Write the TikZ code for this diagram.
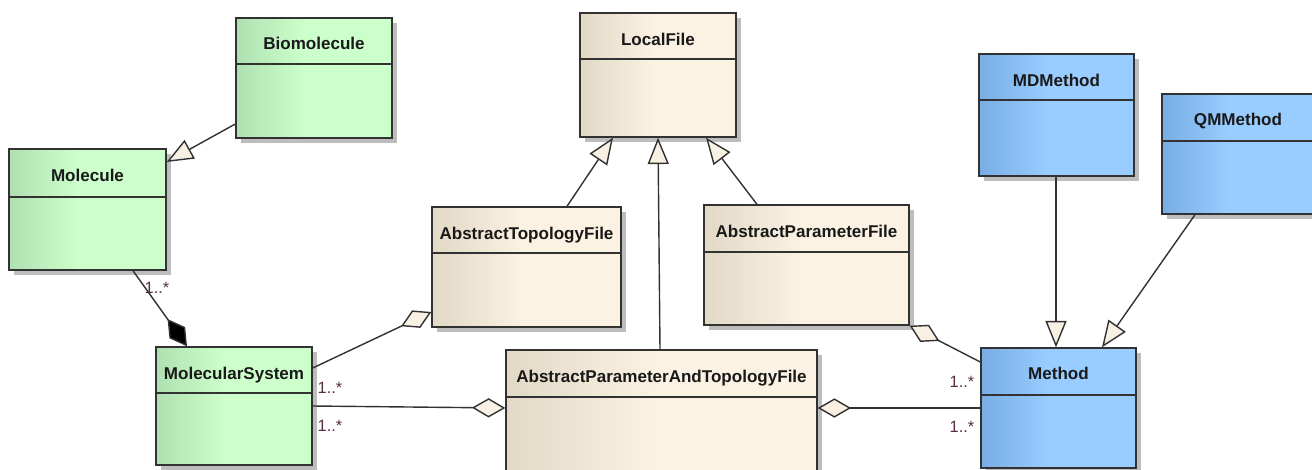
\documentclass[tikz,border=0pt]{standalone}
\usepackage{fontspec}
\setmainfont{Liberation Sans}
\usetikzlibrary{arrows.meta,fit,shadows}
\definecolor{gL}{RGB}{176,224,176}
\definecolor{gR}{RGB}{204,255,204}
\definecolor{bL}{RGB}{226,216,198}
\definecolor{bR}{RGB}{252,242,228}
\definecolor{uL}{RGB}{120,174,228}
\definecolor{uR}{RGB}{153,204,255}
\definecolor{edge}{RGB}{50,50,50}
\definecolor{tipfill}{RGB}{248,240,226}
\definecolor{multcol}{RGB}{85,45,70}
\pgfdeclarehorizontalshading{greenshade}{100bp}{color(0bp)=(gL); color(25bp)=(gL); color(47bp)=(gR); color(100bp)=(gR)}
\pgfdeclarehorizontalshading{beigeshade}{100bp}{color(0bp)=(bL); color(25bp)=(bL); color(49bp)=(bR); color(100bp)=(bR)}
\pgfdeclarehorizontalshading{blueshade}{100bp}{color(0bp)=(uL); color(25bp)=(uL); color(47bp)=(uR); color(100bp)=(uR)}
\newcommand{\umlbox}[9]{%
  \node[umlbox, shading=#2, fit={(#3,#4) (#5,#6)}] (#1) {};
  \draw[divline] (#1.west |- 0,#7) -- (#1.east |- 0,#7);
  \node[title] (#1-t) at ({(#3+#5)/2},#8) {#9};
}
\begin{document}
\begin{tikzpicture}[x=0.02cm,y=-0.02cm,
  umlbox/.style={draw=edge, line width=0.8pt, inner sep=0pt,
    drop shadow={shadow xshift=2.8pt, shadow yshift=-2.8pt, fill=black!40, opacity=0.65}},
  divline/.style={draw=edge, line width=0.8pt},
  title/.style={font=\fontsize{9.7}{11}\selectfont\bfseries, text=black!90, anchor=base, inner sep=0pt},
  conn/.style={draw=edge, line width=0.8pt},
  gen/.style={conn, -{Triangle[length=15pt,width=12pt,fill=tipfill]}},
  aggr/.style={conn, {Diamond[length=19pt,width=11pt,fill=tipfill]}-},
  comp/.style={conn, -{Diamond[length=19pt,width=11pt,fill=black]}},
  mult/.style={font=\fontsize{9.3}{10}\selectfont, text=multcol, inner sep=0pt}]
\useasboundingbox (0,0) rectangle (1312,470);

\umlbox{bio}{greenshade}{236}{18}{392}{138}{64}{50}{Biomolecule}
\umlbox{mol}{greenshade}{9}{149}{166}{270}{197}{181}{Molecule}
\umlbox{msys}{greenshade}{156}{347}{312}{465}{393}{379}{MolecularSystem}
\umlbox{lf}{beigeshade}{580}{13}{736}{137}{59}{45}{LocalFile}
\umlbox{atf}{beigeshade}{432}{207}{621}{327}{253}{239}{AbstractTopologyFile}
\umlbox{apf}{beigeshade}{704}{205}{909}{325}{252}{237}{AbstractParameterFile}
\umlbox{aptf}{beigeshade}{506}{350}{817}{480}{397}{382}{AbstractParameterAndTopologyFile}
\umlbox{md}{blueshade}{979}{54}{1134}{176}{100}{86}{MDMethod}
\umlbox{qm}{blueshade}{1162}{94}{1314}{214}{141}{125}{QMMethod}
\umlbox{meth}{blueshade}{981}{348}{1136}{468}{395}{379}{Method}

% generalizations
\draw[gen] (bio.west |- 0,124) -- (mol.east |- 0,162);
\draw[gen] (aptf.north -| 660,0) -- (lf.south -| 658,0);
\draw[gen] (atf.north -| 567,0) -- (lf.south -| 613,0);
\draw[gen] (apf.north -| 757,0) -- (lf.south -| 706,0);
\draw[gen] (md.south -| 1056,0) -- (meth.north -| 1056,0);
\draw[gen] (qm.south -| 1195,0) -- (meth.north -| 1102,0);

% composition
\draw[comp] (mol.south -| 133,0) -- (msys.north -| 187,0);

% aggregations
\draw[aggr] (atf.west |- 0,312) -- (msys.east |- 0,368);
\draw[aggr] (aptf.west |- 0,408) -- (msys.east |- 0,406);
\draw[aggr] (apf.south east) -- (meth.west |- 0,362);
\draw[aggr] (aptf.east |- 0,408) -- (meth.west |- 0,408);

% multiplicities
\node[mult] (m1) at (157,288) {1..*};
\node[mult] (m2) at (330,388) {1..*};
\node[mult] (m3) at (330,426) {1..*};
\node[mult] (m4) at (962,382) {1..*};
\node[mult] (m5) at (962,427) {1..*};
\end{tikzpicture}
\end{document}
